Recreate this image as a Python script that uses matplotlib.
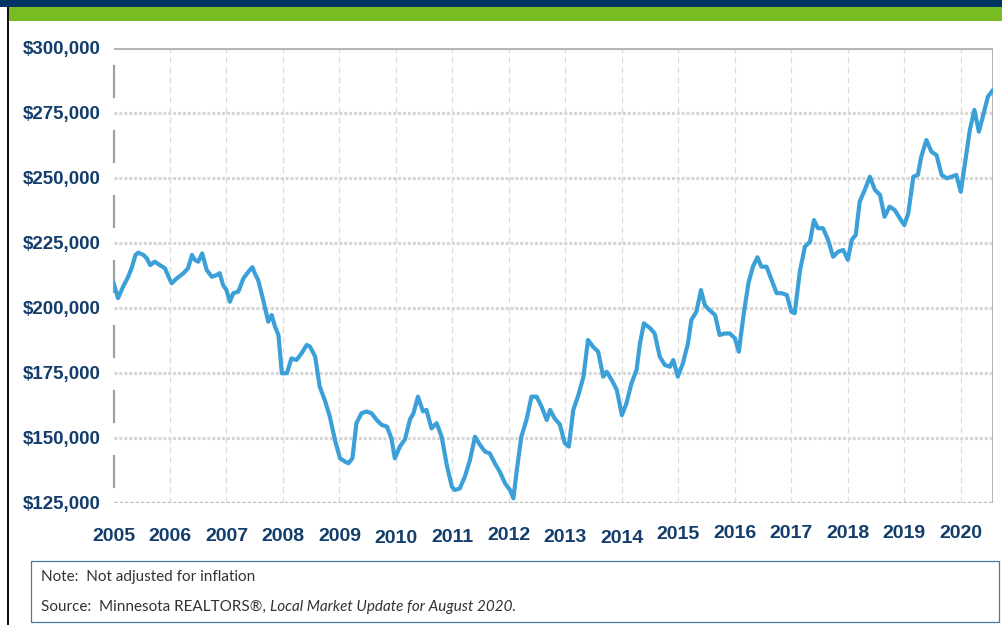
"""Median sales price, Minnesota, 2005 - Aug 2020 (rolling, not inflation adjusted)."""
import matplotlib
matplotlib.use("Agg")
import matplotlib.pyplot as plt
from matplotlib.patches import Rectangle
from matplotlib.text import Annotation
from matplotlib.ticker import FuncFormatter
from matplotlib.transforms import ScaledTranslation

# --- data ---
years = [
    2005.00, 2005.08, 2005.17, 2005.26, 2005.32, 2005.39, 2005.44, 2005.53, 2005.59, 2005.65,
    2005.73, 2005.82, 2005.91, 2006.00, 2006.03, 2006.12, 2006.24, 2006.32, 2006.39, 2006.44,
    2006.50, 2006.57, 2006.65, 2006.74, 2006.83, 2006.88, 2006.94, 2007.00, 2007.06, 2007.12,
    2007.21, 2007.30, 2007.39, 2007.46, 2007.50, 2007.56, 2007.65, 2007.74, 2007.80, 2007.86,
    2007.92, 2007.98, 2008.07, 2008.15, 2008.24, 2008.33, 2008.42, 2008.48, 2008.57, 2008.65,
    2008.74, 2008.83, 2008.92, 2009.01, 2009.10, 2009.16, 2009.23, 2009.30, 2009.39, 2009.48,
    2009.57, 2009.66, 2009.75, 2009.84, 2009.92, 2009.98, 2010.07, 2010.16, 2010.25, 2010.31,
    2010.39, 2010.48, 2010.54, 2010.63, 2010.72, 2010.81, 2010.90, 2010.99, 2011.04, 2011.13,
    2011.22, 2011.31, 2011.40, 2011.49, 2011.58, 2011.66, 2011.75, 2011.84, 2011.93, 2012.02,
    2012.08, 2012.14, 2012.22, 2012.31, 2012.40, 2012.49, 2012.58, 2012.67, 2012.73, 2012.81,
    2012.90, 2012.99, 2013.06, 2013.14, 2013.23, 2013.32, 2013.40, 2013.49, 2013.58, 2013.67,
    2013.73, 2013.82, 2013.91, 2014.00, 2014.08, 2014.17, 2014.26, 2014.32, 2014.39, 2014.50,
    2014.58, 2014.67, 2014.76, 2014.85, 2014.91, 2014.99, 2015.08, 2015.17, 2015.23, 2015.32,
    2015.40, 2015.47, 2015.56, 2015.65, 2015.73, 2015.82, 2015.91, 2016.00, 2016.07, 2016.15,
    2016.24, 2016.32, 2016.40, 2016.47, 2016.56, 2016.65, 2016.74, 2016.83, 2016.92, 2017.00,
    2017.06, 2017.15, 2017.24, 2017.33, 2017.40, 2017.47, 2017.56, 2017.65, 2017.74, 2017.83,
    2017.92, 2018.00, 2018.07, 2018.14, 2018.21, 2018.30, 2018.39, 2018.48, 2018.57, 2018.65,
    2018.74, 2018.83, 2018.92, 2019.00, 2019.07, 2019.16, 2019.24, 2019.30, 2019.39, 2019.48,
    2019.57, 2019.66, 2019.75, 2019.84, 2019.92, 2020.00, 2020.07, 2020.16, 2020.24, 2020.32,
    2020.39, 2020.48, 2020.57,
]
prices = [
    209700, 203800, 208200, 212000, 215300, 220400, 221300, 220400, 219100, 216500,
    217800, 216500, 215300, 210800, 209500, 211400, 213400, 215300, 220400, 218500,
    217800, 221000, 214600, 212000, 212700, 213400, 208800, 206900, 202400, 205700,
    206300, 211400, 214000, 215700, 213400, 210800, 203100, 194700, 197300, 192800,
    189600, 174900, 174900, 180600, 180000, 182600, 185800, 185100, 181300, 169800,
    164600, 158200, 149200, 142200, 140900, 140300, 142200, 155700, 159500, 160200,
    159500, 156900, 155000, 154400, 149900, 142200, 146700, 149500, 157200, 159500,
    165900, 160200, 160800, 153700, 155700, 150500, 139600, 131300, 130000, 130600,
    135100, 141500, 150500, 147300, 144700, 144100, 140300, 137000, 132600, 130000,
    126800, 137700, 150500, 156900, 165900, 165900, 162000, 156900, 160800, 157500,
    155300, 148000, 146700, 160800, 166500, 173600, 187700, 185100, 183200, 173600,
    175500, 172300, 168500, 158800, 163300, 171000, 176200, 186400, 194100, 192200,
    190200, 181300, 178100, 177400, 180000, 173600, 178700, 186400, 195400, 198600,
    206900, 201000, 199000, 197300, 189600, 190200, 190200, 188400, 183200, 196700,
    209500, 215900, 219500, 215900, 215900, 210800, 205700, 205700, 205000, 198600,
    198000, 214000, 223600, 225500, 233800, 230700, 230700, 226200, 219700, 221700,
    222300, 218500, 226200, 228100, 240900, 245400, 250500, 245400, 243500, 235100,
    239000, 237700, 234500, 231900, 236400, 250500, 251200, 258200, 264600, 260100,
    258800, 251200, 249900, 250500, 251200, 244700, 255000, 268500, 276200, 267800,
    273600, 281300, 283800,
]
year_ticks = list(range(2005, 2021))
price_ticks = [125000, 150000, 175000, 200000, 225000, 250000, 275000, 300000]

NOTE = "Note:  Not adjusted for inflation"
SOURCE = "Source:  Minnesota REALTORS\u00ae, "
SOURCE_ITALIC = "Local Market Update for August 2020."

# --- styling ---
NAVY = "#133d6b"
LINE_BLUE = "#3ba0d8"
GRID_LIGHT = "#d6d6d6"
W, H = 1002, 625
# the year labels in the original sit slightly unevenly (pixels, + = down)
YEAR_LABEL_NUDGE = [0, 0, 0, 0, 0, 1.7, 1, -0.7, 0.7, 1.7, -1.7, -2.7, -2.7, -2.7, -2.7, -2.7]

fig = plt.figure(figsize=(W / 100, H / 100), dpi=100)

# header bands and left frame line
fig.add_artist(Rectangle((0, 1 - 7 / H), 1, 7 / H, transform=fig.transFigure,
                         facecolor="#003462", edgecolor="none"))
fig.add_artist(Rectangle((9 / W, 1 - 21 / H), 1, 14 / H, transform=fig.transFigure,
                         facecolor="#78bc21", edgecolor="none"))
fig.add_artist(Rectangle((7 / W, 0), 2 / W, 1 - 7 / H, transform=fig.transFigure,
                         facecolor="#111111", edgecolor="none"))

ax = fig.add_axes([113.5 / W, 1 - 503 / H, (993 - 113.5) / W, (503 - 48) / H])
ax.plot(years, prices, color=LINE_BLUE, lw=3.0, solid_joinstyle="round", zorder=3)

ax.set_xlim(2005, 2020.57)
ax.set_ylim(125000, 300000)
ax.set_xticks(year_ticks)
ax.set_yticks(price_ticks)
ax.yaxis.set_major_formatter(FuncFormatter(lambda v, _: f"${v:,.0f}"))

ax.tick_params(axis="both", length=0, labelcolor=NAVY)
ax.tick_params(axis="x", pad=18, labelsize=14)
ax.tick_params(axis="y", pad=9, labelsize=13.5)
for lbl in ax.get_xticklabels() + ax.get_yticklabels():
    lbl.set_fontfamily("Liberation Sans")
    lbl.set_fontweight("bold")
for lbl, dy in zip(ax.get_xticklabels(), YEAR_LABEL_NUDGE):
    lbl.set_transform(lbl.get_transform() + ScaledTranslation(0, -dy / 100, fig.dpi_scale_trans))

# grid: dotted horizontal, thin dashed vertical
for v in price_ticks[1:-1]:
    ax.axhline(v, color=GRID_LIGHT, lw=2.2, ls=(0, (1, 0.6)), zorder=1)
for yr in year_ticks[1:]:
    ax.axvline(yr, color="#dcdcdc", lw=0.9, ls=(0, (5, 3)), zorder=1)

for side in ("left", "bottom", "top", "right"):
    ax.spines[side].set_visible(False)
ax.axhline(300000, color="#b4b4b4", lw=3, zorder=2)
ax.axhline(125000, color="#bdbdbd", lw=2.4, ls=(0, (1, 0.6)), zorder=2)
ax.axvline(2020.57, color="#a8a8a8", lw=1.2, zorder=2)

# broken left axis: short segments between the price gridlines
yax = ax.get_yaxis_transform()
for lo, hi in zip(price_ticks[:-1], price_ticks[1:]):
    ax.plot([0, 0], [lo + 6000, hi - 7000], color="#a0a0a0", lw=1.6,
            transform=yax, clip_on=False, zorder=2)

# note box
fig.add_artist(Rectangle((30.5 / W, 1 - 622 / H), (999 - 30.5) / W, 61 / H,
                         transform=fig.transFigure, facecolor="white",
                         edgecolor="#4a78a4", lw=0.9))
note_font = dict(family="Lato", size=11, color="#333333")
fig.text(41 / W, 1 - 577 / H, NOTE, va="center", ha="left", **note_font)
src = fig.text(41 / W, 1 - 607 / H, SOURCE, va="center", ha="left", **note_font)
fig.add_artist(Annotation(SOURCE_ITALIC, xy=(1, 0), xycoords=src, va="bottom",
                          ha="left", style="italic", **note_font))

fig.savefig("out.png", dpi=100)
